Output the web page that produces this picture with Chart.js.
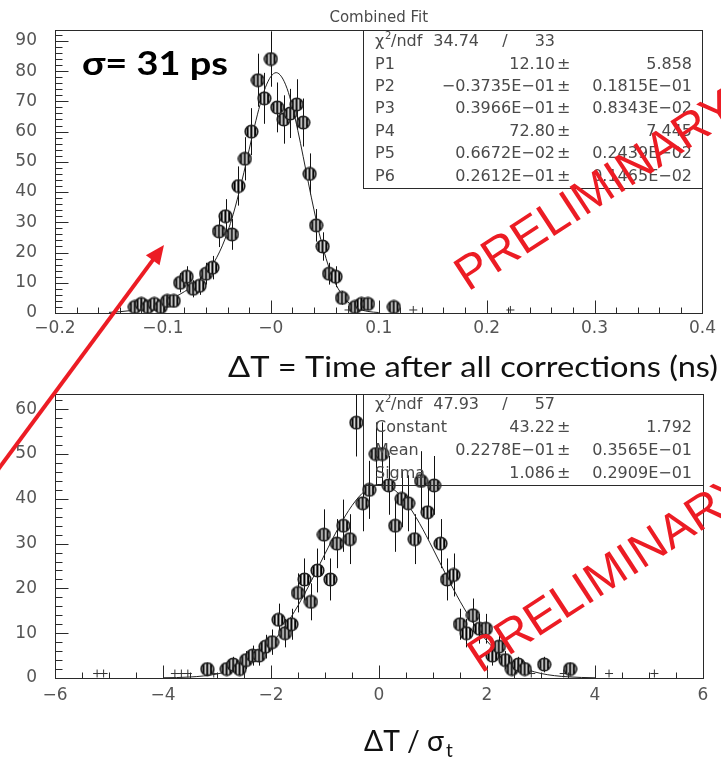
<!DOCTYPE html>
<html><head><meta charset="utf-8">
<script src="https://cdn.jsdelivr.net/npm/chart.js@4.4.1/dist/chart.umd.min.js"></script>
<style>
html,body{margin:0;padding:0;background:#fff;overflow:hidden;width:721px;height:759px}
canvas{position:absolute;left:0;top:0}
</style>
</head><body>
<canvas id="c1" width="721" height="759"></canvas>
<canvas id="c2" width="721" height="759"></canvas>
<script>
// ---------------- DATA ----------------
// Top histogram: Combined Fit (ΔT in ns)
const topCenters = [-0.126,-0.120,-0.114,-0.108,-0.102,-0.096,-0.090,-0.084,-0.078,-0.072,-0.066,-0.060,-0.054,-0.048,-0.042,-0.036,-0.030,-0.024,-0.018,-0.012,-0.006,0.000,0.006,0.012,0.018,0.024,0.030,0.036,0.042,0.048,0.054,0.060,0.066,0.078,0.084,0.090,0.114];
const topCounts  = [2,3,2,3,2,4,4,10,12,8,9,13,15,27,32,26,42,51,60,77,71,84,68,64,66,69,63,46,29,22,13,12,5,2,3,3,2];
const topCrossX  = [0.072,0.132,0.222];
const topCrossY  = [1,1,1];
const topFitX = [-0.15,-0.14,-0.13,-0.12,-0.11,-0.10,-0.09,-0.08,-0.07,-0.06,-0.055,-0.05,-0.045,-0.04,-0.035,-0.03,-0.025,-0.02,-0.015,-0.01,-0.005,0,0.005,0.01,0.015,0.02,0.025,0.03,0.035,0.04,0.045,0.05,0.055,0.06,0.07,0.08,0.09,0.10];
const topFitY = [0.21,0.43,0.79,1.38,2.26,3.49,5.09,7.08,9.60,13.09,15.4,18.44,22.2,26.87,32.5,39.13,46.4,54.2,61.9,68.9,74.6,78.2,79.5,78.1,74.3,68.2,60.4,51.7,42.7,34.1,26.2,19.5,13.9,9.65,4.16,1.56,0.52,0.15];
const topXTicks = {min:-0.2, max:0.4, major:0.1, minor:0.02};
const topYTicks = {min:0, max:93.6, major:10, minor:2};
const topStats = [
  ['P1','12.10','5.858'],
  ['P2','−0.3735E−01','0.1815E−01'],
  ['P3','0.3966E−01','0.8343E−02'],
  ['P4','72.80','7.445'],
  ['P5','0.6672E−02','0.2439E−02'],
  ['P6','0.2612E−01','0.1465E−02']
];
const topChi = ['34.74','33'];

// Bottom histogram: ΔT / σt
const botCenters = [-3.18,-2.82,-2.70,-2.58,-2.46,-2.34,-2.22,-2.10,-1.98,-1.86,-1.74,-1.62,-1.50,-1.38,-1.26,-1.14,-1.02,-0.90,-0.78,-0.66,-0.54,-0.42,-0.30,-0.18,-0.06,0.06,0.18,0.30,0.42,0.54,0.66,0.78,0.90,1.02,1.14,1.26,1.38,1.50,1.62,1.74,1.86,1.98,2.10,2.22,2.34,2.46,2.58,2.70,3.06,3.54];
const botCounts  = [2,2,3,2,4,5,5,7,8,13,10,12,19,22,17,24,32,22,30,34,31,57,39,42,50,50,43,34,40,39,31,44,37,43,30,22,23,12,10,14,11,11,5,7,4,2,3,2,3,2];
const botCrossX  = [-5.22,-5.10,-3.78,-3.66,-3.54,-3.06,2.82,3.42,4.26,5.10];
const botCrossY  = [1,1,1,1,1,1,1,1,1,1];
const botFitX = [-4,-3.75,-3.5,-3.25,-3,-2.75,-2.5,-2.25,-2,-1.75,-1.5,-1.25,-1,-0.75,-0.5,-0.25,0,0.25,0.5,0.75,1,1.25,1.5,1.75,2,2.25,2.5,2.75,3,3.25,3.5,3.75,4];
const botFitY = [0.05,0.10,0.22,0.46,0.90,1.66,2.91,4.84,7.62,11.41,16.17,21.75,27.73,33.55,38.49,41.88,43.21,42.29,39.24,34.54,28.83,22.82,17.14,12.20,8.24,5.28,3.21,1.85,1.01,0.52,0.26,0.12,0.05];
const botXTicks = {min:-6, max:6, major:2, minor:0.5};
const botYTicks = {min:0, max:63.4, major:10, minor:2};
const botStats = [
  ['Constant','43.22','1.792'],
  ['Mean','0.2278E−01','0.3565E−01'],
  ['Sigma','1.086','0.2909E−01']
];
const botChi = ['47.93','57'];

// ---------------- HELPERS ----------------
const RED = '#ec1c24';
const TXT = '#4a4a4a';
const ROOTFONT = '"DejaVu Sans", sans-serif';

function makeMarker(){
  const c = document.createElement('canvas'); c.width = 15; c.height = 15;
  const g = c.getContext('2d');
  g.save();
  g.beginPath(); g.arc(7.5,7.5,6.4,0,Math.PI*2); g.fillStyle = '#e4e4e4'; g.fill(); g.clip();
  g.fillStyle = '#000';
  [2.6,6.4,10.2].forEach(x => g.fillRect(x,0,2.0,15));
  g.restore();
  g.beginPath(); g.arc(7.5,7.5,6.3,0,Math.PI*2); g.strokeStyle = '#1e1e1e'; g.lineWidth = 1.6; g.stroke();
  return c;
}
const marker = makeMarker();

const pts = (xs, ys) => xs.map((x,i) => ({x, y: ys[i]}));

const errBars = {
  id: 'errBars',
  beforeDatasetsDraw(chart){
    const {ctx, chartArea:a, scales:{x, y}} = chart;
    ctx.save();
    ctx.beginPath(); ctx.rect(a.left, a.top, a.right - a.left, a.bottom - a.top); ctx.clip();
    ctx.strokeStyle = '#111'; ctx.lineWidth = 1;
    chart.data.datasets.forEach(ds => {
      if (!ds.errBars) return;
      ds.data.forEach(p => {
        const e = Math.sqrt(p.y); // Poisson error of the bin content
        const px = Math.round(x.getPixelForValue(p.x)) + 0.5;
        ctx.beginPath();
        ctx.moveTo(px, y.getPixelForValue(p.y - e));
        ctx.lineTo(px, y.getPixelForValue(p.y + e));
        ctx.stroke();
      });
    });
    ctx.restore();
  }
};

function drawFrameTicks(chart, xt, yt){
  const {ctx, chartArea:a, scales:{x, y}} = chart;
  ctx.save();
  ctx.strokeStyle = '#2a2a2a'; ctx.lineWidth = 1;
  ctx.strokeRect(Math.round(a.left)+0.5, Math.round(a.top)+0.5, Math.round(a.right-a.left), Math.round(a.bottom-a.top));
  const bottom = Math.round(a.bottom)+0.5, left = Math.round(a.left)+0.5;
  ctx.beginPath();
  for (let i = 0; ; i++){
    const v = xt.min + i*xt.minor; if (v > xt.max + 1e-9) break;
    const r = v/xt.major, major = Math.abs(r - Math.round(r)) < 1e-6;
    const px = Math.round(x.getPixelForValue(v)) + 0.5;
    ctx.moveTo(px, bottom); ctx.lineTo(px, bottom - (major ? 13 : 6));
  }
  for (let i = 0; ; i++){
    const v = yt.min + i*yt.minor; if (v > yt.max + 1e-9) break;
    const r = v/yt.major, major = Math.abs(r - Math.round(r)) < 1e-6;
    const py = Math.round(y.getPixelForValue(v)) + 0.5;
    ctx.moveTo(left, py); ctx.lineTo(left + (major ? 13 : 7), py);
  }
  ctx.stroke();
  ctx.restore();
}

function fitText(ctx, text, x, y, width, font, color){
  ctx.save();
  ctx.font = font; ctx.fillStyle = color; ctx.textBaseline = 'alphabetic'; ctx.textAlign = 'left';
  const w = ctx.measureText(text).width;
  ctx.translate(x, y); ctx.scale(width / w, 1);
  ctx.fillText(text, 0, 0);
  ctx.restore();
}

function statsBlock(ctx, chi, rows, y0, dy){
  ctx.save();
  ctx.font = '16px ' + ROOTFONT; ctx.fillStyle = TXT; ctx.textBaseline = 'middle';
  ctx.textAlign = 'left'; ctx.fillText('χ', 375, y0);
  ctx.font = '10px ' + ROOTFONT; ctx.fillText('2', 385, y0 - 6);
  ctx.font = '16px ' + ROOTFONT; ctx.fillText('/ndf', 391, y0);
  ctx.textAlign = 'right'; ctx.fillText(chi[0], 479, y0);
  ctx.textAlign = 'center'; ctx.fillText('/', 505, y0);
  ctx.textAlign = 'right'; ctx.fillText(chi[1], 555, y0);
  rows.forEach((r, i) => {
    const yy = y0 + dy*(i+1);
    ctx.textAlign = 'left'; ctx.fillText(r[0], 375, yy);
    ctx.textAlign = 'right'; ctx.fillText(r[1], 555, yy);
    ctx.textAlign = 'left'; ctx.fillText('±', 557, yy);
    ctx.textAlign = 'right'; ctx.fillText(r[2], 692, yy);
  });
  ctx.restore();
}

function prelim(ctx, x, y){
  ctx.save();
  ctx.translate(x, y); ctx.rotate(-33*Math.PI/180);
  ctx.font = '48px "Liberation Sans", Arial, sans-serif';
  ctx.fillStyle = RED; ctx.textBaseline = 'alphabetic'; ctx.textAlign = 'left';
  ctx.fillText('PRELIMINARY', 0, 0);
  ctx.restore();
}

function arrow(ctx, x0, y0, x1, y1){
  const dx = x1 - x0, dy = y1 - y0, L = Math.hypot(dx, dy), ux = dx/L, uy = dy/L;
  const hl = 19, hw = 8.5;
  const bx = x1 - ux*hl, by = y1 - uy*hl;
  ctx.save();
  ctx.strokeStyle = RED; ctx.fillStyle = RED; ctx.lineWidth = 4;
  ctx.beginPath(); ctx.moveTo(x0, y0); ctx.lineTo(bx + ux*2, by + uy*2); ctx.stroke();
  ctx.beginPath(); ctx.moveTo(x1, y1); ctx.lineTo(bx - uy*hw, by + ux*hw); ctx.lineTo(bx + uy*hw, by - ux*hw); ctx.closePath(); ctx.fill();
  ctx.restore();
}

const fmtTop = v => { if (Math.abs(v) < 1e-9) return '−0'; return v.toFixed(1).replace('-', '−'); };
const fmtBot = v => { const r = Math.round(v); return r < 0 ? '−' + Math.abs(r) : String(r); };
const fmtY = v => String(Math.round(v));

function baseOptions(xt, yt, padTop, padBottom, xfmt, xPad){
  return {
    responsive: false, animation: false, devicePixelRatio: 1,
    layout: {padding: {left: 0, right: 18, top: padTop, bottom: padBottom}},
    plugins: {legend: {display: false}, tooltip: {enabled: false}, title: {display: false}},
    scales: {
      x: {type: 'linear', min: xt.min, max: xt.max,
          afterFit(s){ s.height = 30; },
          grid: {display: false, drawTicks: false}, border: {display: false},
          ticks: {stepSize: xt.major, includeBounds: false, autoSkip: false, maxRotation: 0, padding: xPad,
                  color: '#555', font: {family: ROOTFONT, size: 17}, callback: xfmt}},
      y: {type: 'linear', min: yt.min, max: yt.max,
          afterFit(s){ s.width = 55; },
          grid: {display: false, drawTicks: false}, border: {display: false},
          ticks: {stepSize: yt.major, includeBounds: false, padding: 18,
                  color: '#555', font: {family: ROOTFONT, size: 17}, callback: fmtY}}
    }
  };
}

function datasets(cx, cy, ccx, ccy, fx, fy){
  return [
    {label: 'fit', data: pts(fx, fy), showLine: true, borderColor: '#222', borderWidth: 1,
     pointRadius: 0, cubicInterpolationMode: 'monotone', fill: false, order: 2},
    {label: 'empty bins', data: pts(ccx, ccy), pointStyle: 'cross', pointRadius: 4,
     borderColor: '#333', borderWidth: 1, order: 1, clip: false},
    {label: 'data', data: pts(cx, cy), errBars: true, pointStyle: marker, pointRadius: 7,
     order: 0, clip: false}
  ];
}

// ---------------- TOP CHART ----------------
new Chart(document.getElementById('c1'), {
  type: 'scatter',
  data: {datasets: datasets(topCenters, topCounts, topCrossX, topCrossY, topFitX, topFitY)},
  options: baseOptions(topXTicks, topYTicks, 30, 759 - 313 - 30, fmtTop, 5),
  plugins: [errBars, {
    id: 'topDeco',
    afterDraw(chart){
      const ctx = chart.ctx, a = chart.chartArea;
      drawFrameTicks(chart, topXTicks, topYTicks);
      ctx.save();
      ctx.strokeStyle = '#2a2a2a'; ctx.lineWidth = 1;
      ctx.strokeRect(363.5, Math.round(a.top)+0.5, Math.round(a.right) - 363, 188 - Math.round(a.top));
      ctx.restore();
      statsBlock(ctx, topChi, topStats, 42, 22.4);
      ctx.save();
      ctx.font = '15px ' + ROOTFONT; ctx.fillStyle = TXT; ctx.textAlign = 'center'; ctx.textBaseline = 'alphabetic';
      ctx.fillText('Combined Fit', (a.left + a.right)/2, 22);
      ctx.restore();
      fitText(ctx, 'σ= 31 ps', 82, 75, 146, 'bold 32px Lato, sans-serif', '#000');
    }
  }]
});

// ---------------- BOTTOM CHART ----------------
new Chart(document.getElementById('c2'), {
  type: 'scatter',
  data: {datasets: datasets(botCenters, botCounts, botCrossX, botCrossY, botFitX, botFitY)},
  options: baseOptions(botXTicks, botYTicks, 394, 759 - 678 - 30, fmtBot, 7),
  plugins: [errBars, {
    id: 'botDeco',
    afterDraw(chart){
      const ctx = chart.ctx, a = chart.chartArea;
      drawFrameTicks(chart, botXTicks, botYTicks);
      ctx.save();
      ctx.strokeStyle = '#2a2a2a'; ctx.lineWidth = 1;
      ctx.beginPath();
      ctx.moveTo(363.5, Math.round(a.top)); ctx.lineTo(363.5, 485.5); ctx.lineTo(Math.round(a.right), 485.5);
      ctx.stroke();
      ctx.restore();
      statsBlock(ctx, botChi, botStats, 405, 23);
      // axis titles
      fitText(ctx, 'ΔT = Time after all corrections (ns)', 228, 377, 490, '29px Lato, sans-serif', '#111');
      fitText(ctx, 'ΔT / σ', 364, 751, 80, '29px Lato, sans-serif', '#111');
      ctx.save(); ctx.font = '19px Lato, sans-serif'; ctx.fillStyle = '#111'; ctx.fillText('t', 446, 757); ctx.restore();
      // annotations
      prelim(ctx, 468, 292);
      prelim(ctx, 481, 674);
      arrow(ctx, -12, 483, 164, 245);
    }
  }]
});
</script>
</body></html>
